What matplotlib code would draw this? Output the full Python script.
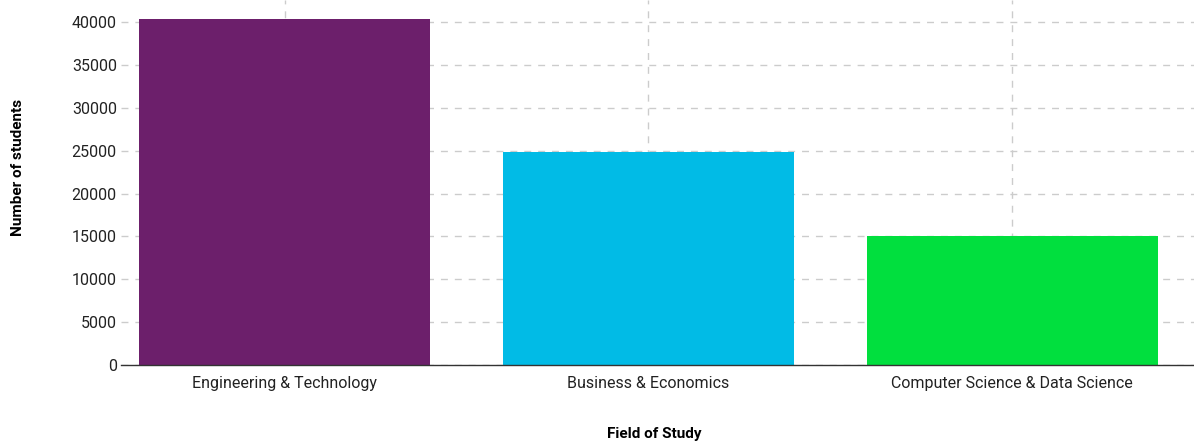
import matplotlib
matplotlib.use("Agg")
import matplotlib.pyplot as plt

fields = ["Engineering & Technology", "Business & Economics", "Computer Science & Data Science"]
students = [40400, 24850, 15000]
colors = ["#6c1f6b", "#01bbe6", "#01df3e"]
yticks = [0, 5000, 10000, 15000, 20000, 25000, 30000, 35000, 40000]

plt.rcParams['font.family'] = ['Roboto', 'DejaVu Sans']

fig = plt.figure(figsize=(11.94, 4.41), dpi=100)
ax = fig.add_axes([0.1013, 0.1723, 0.8987, 0.8277])

x = range(len(fields))
ax.bar(x, students, width=0.8, color=colors, zorder=2)

ax.set_xlim(-0.45, 2.5)
ax.set_ylim(0, 42600)
ax.set_xticks(list(x))
ax.set_xticklabels(fields, fontsize=11.5, color="#222222")
ax.set_yticks(yticks)
ax.set_yticklabels([str(v) for v in yticks], fontsize=11.5, color="#222222")
ax.tick_params(axis="x", length=0, pad=8)
ax.tick_params(axis="y", length=0, pad=3)

ax.grid(True, color="#cccccc", linestyle=(0, (5, 5)), linewidth=1, zorder=0)
ax.set_axisbelow(True)

for s in ["top", "right", "left"]:
    ax.spines[s].set_visible(False)
ax.spines["bottom"].set_color("#333333")
ax.spines["bottom"].set_linewidth(1)

fig.text(0.548, 0.0, "Field of Study", ha="center", va="bottom", fontsize=11, fontweight="bold")
fig.text(0.015, 0.621, "Number of students", ha="center", va="center", rotation=90, fontsize=11, fontweight="bold")

fig.savefig("out.png", dpi=100)
